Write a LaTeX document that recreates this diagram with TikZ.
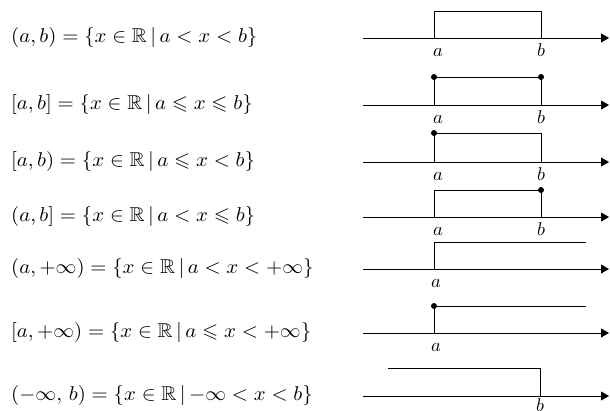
\documentclass[tikz,border=0pt]{standalone}
\usepackage{amssymb}
\usepackage{graphicx}
\usetikzlibrary{arrows.meta}
\newcommand{\txs}[1]{\scalebox{2.08}[2.0]{$#1$}}
\newcommand{\lbs}[1]{\scalebox{1.85}{$#1$}}
\begin{document}
\begin{tikzpicture}[x=1pt,y=-1pt,
  axis/.style={line width=0.9pt,-{Triangle[length=8pt,width=9pt]}},
  bar/.style={line width=0.9pt},
  dotn/.style={circle,fill=black,inner sep=0pt,minimum size=6pt},
  lab/.style={anchor=base,inner sep=0pt},
  eq/.style={anchor=base west,inner sep=0pt}]
\useasboundingbox (0,0) rectangle (610,410);
% equations
\node[eq] (t1) at (11,42.5)  {\txs{(a,b)=\{x\in\mathbb{R}\,|\,a<x<b\}}};
\node[eq] (t2) at (11,109) {\txs{[a,b]=\{x\in\mathbb{R}\,|\,a\leqslant x\leqslant b\}}};
\node[eq] (t3) at (11,166) {\txs{[a,b)=\{x\in\mathbb{R}\,|\,a\leqslant x<b\}}};
\node[eq] (t4) at (11,221) {\txs{(a,b]=\{x\in\mathbb{R}\,|\,a<x\leqslant b\}}};
\node[eq] (t5) at (11,273.5) {\txs{(a,+\infty)=\{x\in\mathbb{R}\,|\,a<x<+\infty\}}};
\node[eq] (t6) at (11,337) {\txs{[a,+\infty)=\{x\in\mathbb{R}\,|\,a\leqslant x<+\infty\}}};
\node[eq] (t7) at (11,400) {\txs{(-\infty,\,b)=\{x\in\mathbb{R}\,|\,{-\infty}<x<b\}}};
% row 1
\coordinate (s1) at (363,38); \coordinate (e1) at (609,38);
\coordinate (a1) at (434,38); \coordinate (at1) at (434,11);
\coordinate (b1) at (541,38); \coordinate (bt1) at (541,11);
\draw[axis] (s1) -- (e1);
\draw[bar] (a1) -- (at1) -- (bt1) -- (b1);
\node[lab] (la1) at (438,56.5) {\lbs{a}};
\node[lab] (lb1) at (541,56.5) {\lbs{b}};
% row 2
\coordinate (s2) at (363,105); \coordinate (e2) at (609,105);
\coordinate (a2) at (434,105); \coordinate (b2) at (541,105);
\node[dotn] (at2) at (434,77) {}; \node[dotn] (bt2) at (541,77) {};
\draw[axis] (s2) -- (e2);
\draw[bar] (a2) -- (at2.center) -- (bt2.center) -- (b2);
\node[lab] (la2) at (438,123.5) {\lbs{a}};
\node[lab] (lb2) at (541,123.5) {\lbs{b}};
% row 3
\coordinate (s3) at (363,162); \coordinate (e3) at (609,162);
\coordinate (a3) at (434,162); \coordinate (b3) at (541,162);
\node[dotn] (at3) at (434,133) {}; \coordinate (bt3) at (541,133);
\draw[axis] (s3) -- (e3);
\draw[bar] (a3) -- (at3.center) -- (bt3) -- (b3);
\node[lab] (la3) at (438,180.5) {\lbs{a}};
\node[lab] (lb3) at (541,180.5) {\lbs{b}};
% row 4
\coordinate (s4) at (363,217); \coordinate (e4) at (609,217);
\coordinate (a4) at (434,217); \coordinate (b4) at (541,217);
\coordinate (at4) at (434,190); \node[dotn] (bt4) at (541,190) {};
\draw[axis] (s4) -- (e4);
\draw[bar] (a4) -- (at4) -- (bt4.center) -- (b4);
\node[lab] (la4) at (438,235.5) {\lbs{a}};
\node[lab] (lb4) at (541,235.5) {\lbs{b}};
% row 5
\coordinate (s5) at (363,269); \coordinate (e5) at (609,269);
\coordinate (a5) at (434,269); \coordinate (at5) at (434,242);
\coordinate (r5) at (586,242);
\draw[axis] (s5) -- (e5);
\draw[bar] (a5) -- (at5) -- (r5);
\node[lab] (la5) at (436,287.5) {\lbs{a}};
% row 6
\coordinate (s6) at (363,333); \coordinate (e6) at (609,333);
\coordinate (a6) at (434,333); \node[dotn] (at6) at (434,306) {};
\coordinate (r6) at (586,306);
\draw[axis] (s6) -- (e6);
\draw[bar] (a6) -- (at6.center) -- (r6);
\node[lab] (la6) at (436,351.5) {\lbs{a}};
% row 7
\coordinate (s7) at (363,396); \coordinate (e7) at (609,396);
\coordinate (l7) at (388,368); \coordinate (bt7) at (540,368);
\coordinate (b7) at (540,396);
\draw[axis] (s7) -- (e7);
\draw[bar] (l7) -- (bt7) -- (b7);
\node[lab] (lb7) at (540,411) {\lbs{b}};
\end{tikzpicture}
\end{document}
